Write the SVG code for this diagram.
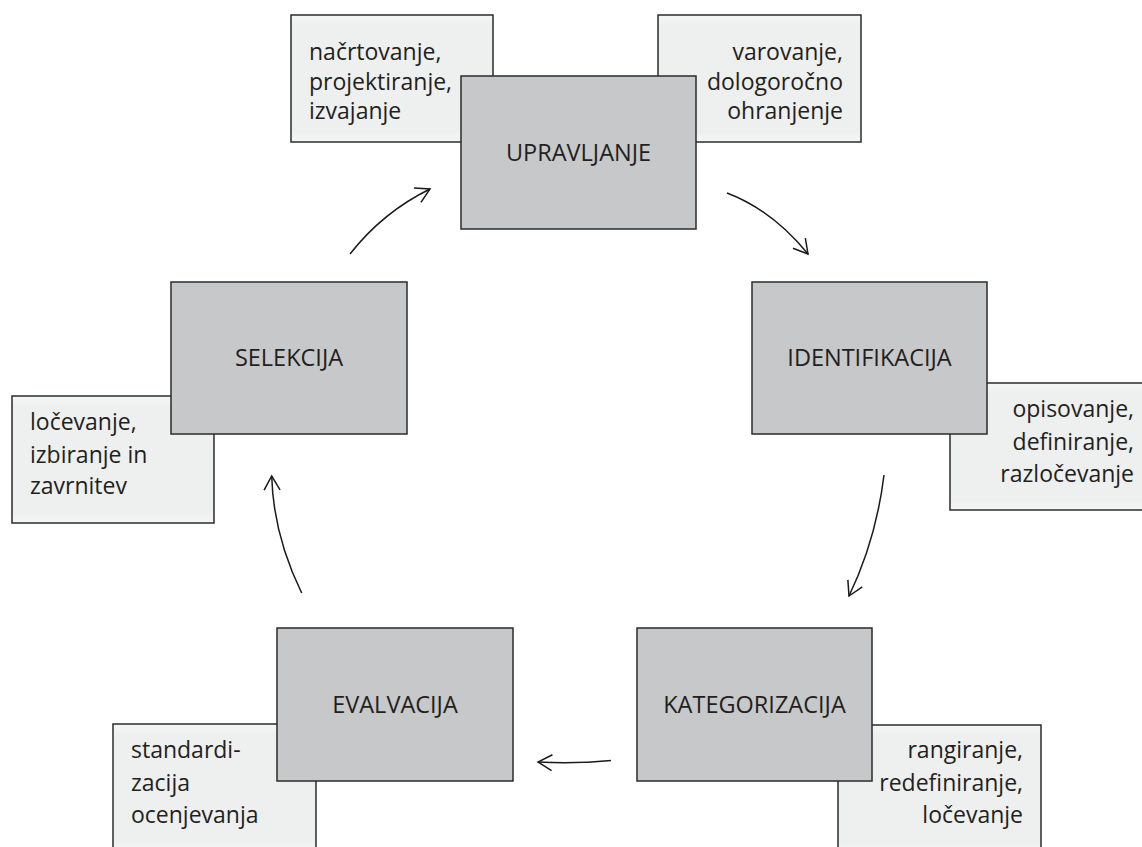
<svg xmlns="http://www.w3.org/2000/svg" width="1142" height="847" viewBox="0 0 1142 847">
<style>
.main{fill:#c7c8ca;stroke:#2b2b2b;stroke-width:1.5}
.note{fill:url(#ng);stroke:#2b2b2b;stroke-width:1.5}
.lbl{font-family:"Open Sans","Noto Sans",sans-serif;font-size:23.5px;fill:#231f20;text-anchor:middle}
.txt{font-family:"Open Sans","Noto Sans",sans-serif;font-size:23px;fill:#231f20}
.r{text-anchor:end}
.arr{fill:none;stroke:#1a1a1a;stroke-width:1.5;marker-end:url(#ah)}
</style>
<defs>
<linearGradient id="ng" x1="0" y1="0" x2="0" y2="1">
<stop offset="0" stop-color="#f5f6f6"/>
<stop offset="0.08" stop-color="#eeefef"/>
<stop offset="0.92" stop-color="#eeefef"/>
<stop offset="1" stop-color="#f5f6f6"/>
</linearGradient>
<marker id="ah" markerUnits="userSpaceOnUse" viewBox="-18 -12 22 24" refX="0" refY="0" markerWidth="22" markerHeight="24" orient="auto">
<path d="M-14,-8 L0,0 L-14,8" fill="none" stroke="#1a1a1a" stroke-width="1.5"/>
</marker>
</defs>
<rect width="1142" height="847" fill="#ffffff"/>

<g id="upravljanje">
<rect class="note" x="291" y="15" width="202" height="127"/>
<text class="txt" x="309" y="60">načrtovanje,</text>
<text class="txt" x="309" y="90">projektiranje,</text>
<text class="txt" x="309" y="119">izvajanje</text>
<rect class="note" x="658" y="15" width="203" height="127"/>
<text class="txt r" x="843" y="60">varovanje,</text>
<text class="txt r" x="843" y="90">dologoročno</text>
<text class="txt r" x="843" y="119">ohranjenje</text>
<rect class="main" x="461" y="76" width="235" height="153"/>
<text class="lbl" x="578.5" y="161">UPRAVLJANJE</text>
</g>

<g id="identifikacija">
<rect class="note" x="950" y="383" width="203" height="127"/>
<text class="txt r" x="1134" y="417">opisovanje,</text>
<text class="txt r" x="1134" y="450">definiranje,</text>
<text class="txt r" x="1134" y="482">razločevanje</text>
<rect class="main" x="752" y="282" width="235" height="152"/>
<text class="lbl" x="869.5" y="366">IDENTIFIKACIJA</text>
</g>

<g id="kategorizacija">
<rect class="note" x="838" y="725" width="203" height="127"/>
<text class="txt r" x="1023" y="758">rangiranje,</text>
<text class="txt r" x="1023" y="791">redefiniranje,</text>
<text class="txt r" x="1023" y="823">ločevanje</text>
<rect class="main" x="637" y="628" width="235" height="153"/>
<text class="lbl" x="754.5" y="713">KATEGORIZACIJA</text>
</g>

<g id="evalvacija">
<rect class="note" x="113" y="724" width="203" height="127"/>
<text class="txt" x="131" y="758">standardi-</text>
<text class="txt" x="131" y="791">zacija</text>
<text class="txt" x="131" y="823">ocenjevanja</text>
<rect class="main" x="277" y="628" width="236" height="153"/>
<text class="lbl" x="395" y="713">EVALVACIJA</text>
</g>

<g id="selekcija">
<rect class="note" x="12" y="396" width="202" height="127"/>
<text class="txt" x="30" y="430">ločevanje,</text>
<text class="txt" x="30" y="463">izbiranje in</text>
<text class="txt" x="30" y="494">zavrnitev</text>
<rect class="main" x="171" y="282" width="236" height="152"/>
<text class="lbl" x="289" y="366">SELEKCIJA</text>
</g>

<g id="connectors">
<path class="arr" d="M350,254 Q383,212 430,189"/>
<path class="arr" d="M727,193 Q772,210 808,254"/>
<path class="arr" d="M884,475 Q876,540 849,596"/>
<path class="arr" d="M611,760.5 Q575,764 538,762"/>
<path class="arr" d="M301.7,593 Q273.3,535 271.7,476"/>
</g>
</svg>
